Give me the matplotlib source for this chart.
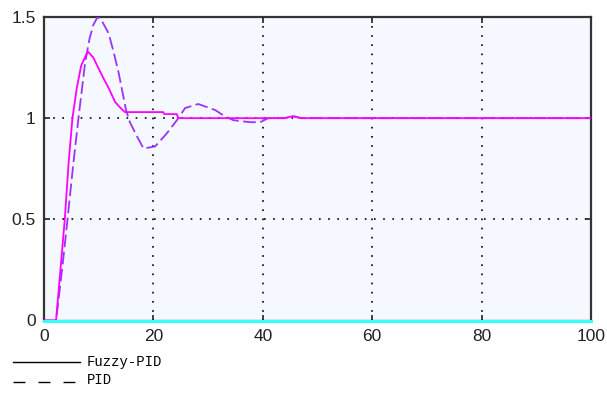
import matplotlib.pyplot as plt
from matplotlib.lines import Line2D

# step responses
fuzzy_t = [0, 2.2, 3.0, 3.8, 4.5, 5.2, 6.0, 6.8, 8.0, 9.0, 9.9, 11.0, 11.8, 13.0, 14.0,
           14.8, 21.8, 22.0, 24.3, 24.5, 44.0, 45.5, 47.0, 100]
fuzzy_y = [0, 0, 0.25, 0.5, 0.78, 1.0, 1.15, 1.26, 1.33, 1.30, 1.25, 1.19, 1.15, 1.08, 1.05,
           1.03, 1.03, 1.02, 1.02, 1.0, 1.0, 1.01, 1.0, 1.0]

pid_t = [0, 2.2, 3.3, 4.3, 5.3, 6.3, 7.5, 8.3, 9.0, 9.8, 10.6, 11.8, 12.7, 13.6, 15.0,
         15.7, 17.0, 18.2, 20.3, 22.3, 24.3, 25.8, 28.2, 31.3, 33.0, 34.6, 37.7, 39.5,
         41.0, 44.0, 45.5, 47.0, 100]
pid_y = [0, 0, 0.25, 0.5, 0.76, 1.0, 1.27, 1.39, 1.46, 1.50, 1.48, 1.42, 1.33, 1.23, 1.04,
         0.98, 0.91, 0.85, 0.86, 0.92, 0.99, 1.05, 1.07, 1.04, 1.01, 0.99, 0.98, 0.98,
         1.0, 1.0, 1.01, 1.0, 1.0]

zero_t = [0, 100]
zero_y = [0, 0]

x_ticks = [0, 20, 40, 60, 80, 100]
y_ticks = [0, 0.5, 1, 1.5]
y_tick_labels = ['0', '0.5', '1', '1.5']
legend_labels = ['Fuzzy-PID', 'PID']

fig = plt.figure(figsize=(6.07, 3.93), dpi=100)
ax = fig.add_axes([44 / 607, 1 - 320.5 / 393, 547 / 607, 303.5 / 393])
ax.set_facecolor('#F5F9FF')

ax.plot(pid_t, pid_y, color='#9933FF', lw=1.3, linestyle=(0, (7, 2.5)), zorder=3)
ax.plot(fuzzy_t, fuzzy_y, color='#FF00FF', lw=1.3, zorder=4)
ax.plot(zero_t, zero_y, color='#33FFFF', lw=2.2, zorder=5, clip_on=False)

ax.set_xlim(0, 100)
ax.set_ylim(0, 1.5)
ax.set_xticks(x_ticks)
ax.set_yticks(y_ticks)
ax.set_yticklabels(y_tick_labels)
ax.grid(True, color='black', linestyle=(0, (1, 4.5)), lw=1.2)
ax.tick_params(direction='in', length=4, width=1.2, top=True, right=True,
               labelsize=12.5, pad=6, colors='#222222')
for s in ax.spines.values():
    s.set_color('#333333')
    s.set_linewidth(1.6)
for lab in ax.get_xticklabels() + ax.get_yticklabels():
    lab.set_fontfamily('Liberation Sans')

# legend drawn below the axes like the original
W, H = 607, 393
fig.add_artist(Line2D([13 / W, 80 / W], [1 - 362 / H, 1 - 362 / H], color='black', lw=1.0))
fig.add_artist(Line2D([13 / W, 80 / W], [1 - 382 / H, 1 - 382 / H], color='black', lw=1.0,
                      linestyle=(0, (8.6, 9.4))))
fig.text(87 / W, 1 - 362 / H, legend_labels[0], fontsize=10, family='Liberation Mono',
         va='center', ha='left')
fig.text(87 / W, 1 - 380 / H, legend_labels[1], fontsize=10, family='Liberation Mono',
         va='center', ha='left')

fig.savefig('out.png', dpi=100)
